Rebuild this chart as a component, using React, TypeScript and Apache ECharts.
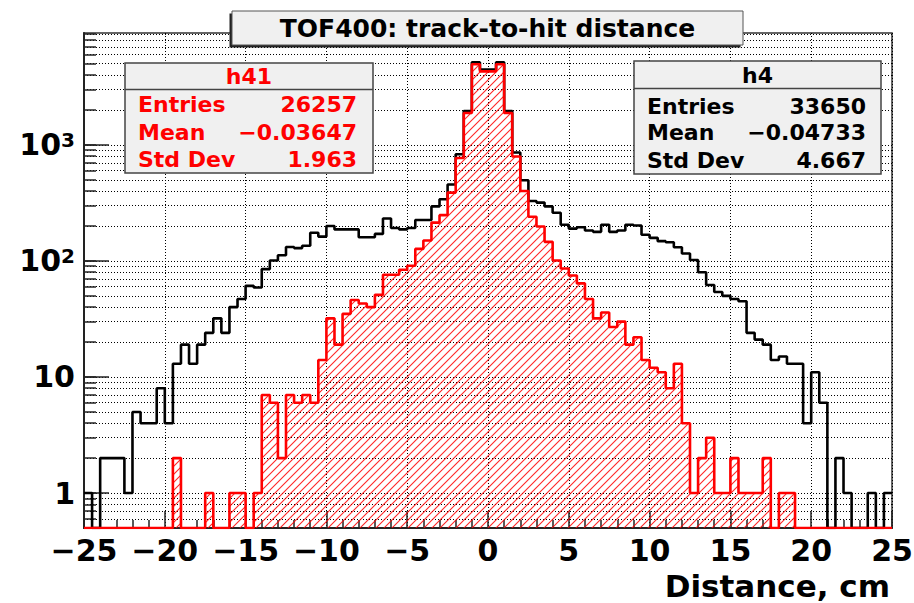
import React, { useEffect, useRef } from "react";
import * as echarts from "echarts";

const X_MIN = -25;
const X_MAX = 25;
const BIN_WIDTH = 0.5;
const Y_MIN = 0.5;
const Y_MAX = 9200;

// h4 (black outline), 100 bins of 0.5 cm from -25 to 25
const h4Counts = [
  1, 0, 2, 2, 2, 1, 5, 4, 4, 8,
  4, 13, 19, 13, 19, 24, 32, 24, 40, 47,
  61, 59, 85, 101, 112, 132, 129, 135, 175, 162,
  200, 187, 187, 187, 160, 160, 171, 232, 192, 187,
  192, 225, 225, 295, 340, 455, 830, 1960, 5150, 4450,
  4450, 5150, 1960, 860, 495, 328, 318, 295, 260, 205,
  190, 195, 183, 178, 205, 178, 183, 205, 202, 168,
  158, 148, 145, 131, 116, 102, 80, 62, 54, 50,
  47, 45, 24, 21, 19, 14, 15, 13, 13, 4,
  11, 6, 0, 2, 1, 0, 0, 1, 0, 1,
];

// h41 (red, hatched)
const h41Counts = [
  0, 0, 0, 0, 0, 0, 0, 0, 0, 0,
  0, 2, 0, 0, 0, 1, 0, 0, 1, 1,
  0, 1, 7, 6, 2, 7, 6, 7, 6, 14,
  32, 19, 35, 46, 43, 40, 51, 76, 76, 84,
  91, 127, 150, 214, 248, 388, 770, 1880, 4950, 4300,
  4300, 4950, 1880, 795, 400, 240, 198, 146, 101, 86,
  75, 64, 47, 32, 36, 27, 30, 19, 22, 14,
  12, 11, 8, 13, 4, 1, 2, 3, 1, 1,
  2, 1, 1, 1, 2, 0, 1, 1, 0, 0,
  0, 0, 0, 0, 0, 0, 0, 0, 0, 0,
];

const yMajorTicks = [1, 10, 100, 1000];
const yMinorTicks = [
  0.5, 0.6, 0.7, 0.8, 0.9,
  1, 2, 3, 4, 5, 6, 7, 8, 9,
  10, 20, 30, 40, 50, 60, 70, 80, 90,
  100, 200, 300, 400, 500, 600, 700, 800, 900,
  1000, 2000, 3000, 4000, 5000, 6000, 7000, 8000, 9000,
];

const statLabels = ["Entries", "Mean", "Std Dev"];
const h41Name = "h41";
const h41Stats = ["26257", "\u22120.03647", "1.963"];
const h4Name = "h4";
const h4Stats = ["33650", "\u22120.04733", "4.667"];
const titleText = "TOF400: track-to-hit distance";
const xAxisTitle = "Distance, cm";

const FONT = "DejaVu Sans";

function toStepPoints(counts: number[]) {
  const pts: number[][] = counts.map((c, i) => [X_MIN + i * BIN_WIDTH, c > 0 ? c : Y_MIN]);
  const last = counts[counts.length - 1];
  pts.push([X_MAX, last > 0 ? last : Y_MIN]);
  return pts;
}

function makeHatch(): any {
  const c = document.createElement("canvas");
  c.width = 8;
  c.height = 8;
  const ctx = c.getContext("2d");
  if (ctx) {
    ctx.clearRect(0, 0, 8, 8);
    ctx.strokeStyle = "rgba(255,0,0,0.85)";
    ctx.lineWidth = 1.1;
    ctx.beginPath();
    for (const o of [-8, 0, 8]) {
      ctx.moveTo(o - 1, 9);
      ctx.lineTo(o + 9, -1);
    }
    ctx.stroke();
  }
  return c;
}

function statsBox(
  x: number, y: number, w: number, h: number, divY: number,
  name: string, values: string[], color: string,
  labelX: number, valueX: number, nameY: number, rowYs: number[]
) {
  const fontStyle = { fontFamily: FONT, fontWeight: "bold", fontSize: 22, fill: color };
  const children: any[] = [
    { type: "rect", shape: { x, y, width: w, height: h }, style: { fill: "#f0f0f0", stroke: "#444", lineWidth: 1.5 }, z: 100 },
    { type: "line", shape: { x1: x, y1: divY, x2: x + w, y2: divY }, style: { stroke: "#444", lineWidth: 1.5 }, z: 101 },
    { type: "text", x: x + w / 2, y: nameY, style: { ...fontStyle, text: name, align: "center", verticalAlign: "middle" }, z: 102 },
  ];
  statLabels.forEach((lab, i) => {
    children.push({ type: "text", x: labelX, y: rowYs[i], style: { ...fontStyle, text: lab, align: "left", verticalAlign: "middle" }, z: 102 });
    children.push({ type: "text", x: valueX, y: rowYs[i], style: { ...fontStyle, text: values[i], align: "right", verticalAlign: "middle" }, z: 102 });
  });
  return children;
}

export default function App() {
  const ref = useRef<HTMLDivElement>(null);

  useEffect(() => {
    if (!ref.current) return;
    const chart = echarts.init(ref.current, null, { renderer: "svg" });

    const dotted = { color: "#000", width: 1, type: [1, 2] as any };
    const labelFont = { fontFamily: FONT, fontWeight: "bold" as any, fontSize: 30, color: "#000" };

    const option: any = {
      animation: false,
      backgroundColor: "#fff",
      grid: {
        left: 84, right: 22, top: 33, bottom: 75,
        show: true, borderColor: "#333", borderWidth: 1.5, backgroundColor: "#fff",
        containLabel: false, outerBoundsMode: "none",
      },
      xAxis: {
        type: "value", min: X_MIN, max: X_MAX, interval: 5,
        axisLine: { show: true, onZero: false, lineStyle: { color: "#222", width: 2 } },
        axisTick: { show: true, inside: true, length: 17, lineStyle: { color: "#222", width: 1.5 } },
        minorTick: { show: true, splitNumber: 5, length: 8, lineStyle: { color: "#222", width: 1.5 } },
        splitLine: { show: true, lineStyle: dotted },
        axisLabel: {
          ...labelFont, margin: 7,
          formatter: (v: number) => (v < 0 ? "\u2212" + Math.abs(v) : String(v)),
        },
      },
      yAxis: [
        {
          type: "log", logBase: 10, min: Y_MIN, max: Y_MAX, position: "left", offset: 0,
          axisLine: { show: true, onZero: false, lineStyle: { color: "#222", width: 2 } },
          axisTick: { show: true, inside: true, length: 12, customValues: yMinorTicks, lineStyle: { color: "#222", width: 1.5 } },
          splitLine: { show: true, lineStyle: dotted },
          axisLabel: { show: false },
          minorTick: { show: false },
        },
        {
          type: "log", logBase: 10, min: Y_MIN, max: Y_MAX, position: "left", offset: 0,
          axisLine: { show: false, onZero: false },
          axisTick: { show: true, inside: true, length: 25, customValues: yMajorTicks, lineStyle: { color: "#222", width: 1.5 } },
          splitLine: { show: false },
          minorTick: { show: false },
          axisLabel: {
            show: true, margin: 9, customValues: yMajorTicks,
            formatter: (v: number) => {
              const e = Math.round(Math.log10(v));
              if (e >= 2) return `{b|10}{s|${e}}`;
              return `{p|${e === 0 ? "1" : "10"}}`;
            },
            rich: {
              p: { ...labelFont },
              b: { ...labelFont, lineHeight: 30, padding: [12, 0, 0, 0], verticalAlign: "bottom" },
              s: { ...labelFont, fontSize: 20, lineHeight: 24, verticalAlign: "top" },
            },
          },
        },
      ],
      series: [
        {
          name: h4Name, type: "line", step: "end", yAxisIndex: 0,
          data: toStepPoints(h4Counts), symbol: "none", showSymbol: false, silent: true,
          lineStyle: { color: "#000", width: 2.6 }, z: 3,
        },
        {
          name: h41Name, type: "line", step: "end", yAxisIndex: 0,
          data: toStepPoints(h41Counts), symbol: "none", showSymbol: false, silent: true,
          lineStyle: { color: "#ff0000", width: 2.6 },
          areaStyle: {
            origin: "start", opacity: 1,
            color: { image: makeHatch(), repeat: "repeat", imageWidth: 8, imageHeight: 8 },
          },
          z: 4,
        },
      ],
      graphic: [
        { type: "rect", shape: { x: 229.5, y: 13.5, width: 511, height: 34 }, style: { fill: "#222" }, z: 100 },
        { type: "rect", shape: { x: 232, y: 11, width: 511, height: 34 }, style: { fill: "#f0f0f0", stroke: "#555", lineWidth: 1 }, z: 101 },
        {
          type: "text", x: 487.5, y: 28.5, z: 102,
          style: { text: titleText, fontFamily: FONT, fontWeight: "bold", fontSize: 25, fill: "#000", align: "center", verticalAlign: "middle" },
        },
        ...statsBox(125, 63, 248, 110, 89.5, h41Name, h41Stats, "#ff0000", 138, 357, 76.5, [104.5, 132, 159.5]),
        ...statsBox(634, 61, 247, 113, 88.5, h4Name, h4Stats, "#000", 647, 866, 75.5, [106, 132.5, 160]),
        {
          type: "text", x: 890, y: 586, z: 102,
          style: { text: xAxisTitle, fontFamily: FONT, fontWeight: "bold", fontSize: 31, fill: "#000", align: "right", verticalAlign: "middle" },
        },
      ],
    };

    chart.setOption(option);
    return () => chart.dispose();
  }, []);

  return (
    <div
      ref={ref}
      style={{ position: "fixed", left: 0, top: 0, width: 914, height: 603, background: "#fff" }}
    />
  );
}
